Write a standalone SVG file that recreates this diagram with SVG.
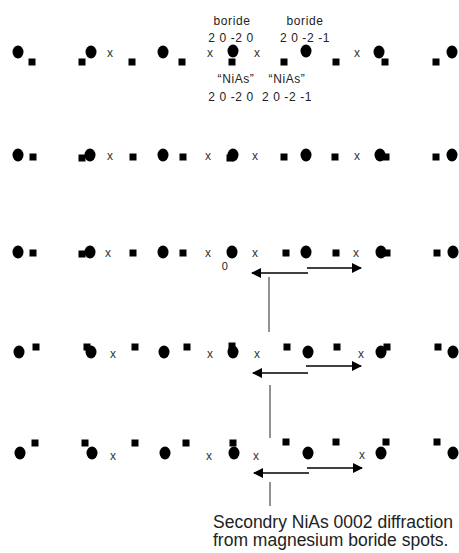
<svg xmlns="http://www.w3.org/2000/svg" width="459" height="553" viewBox="0 0 459 553">
<defs>
<style>
.c{fill:#000}
.s{fill:#000}
.x{font-family:"Liberation Sans",Arial,sans-serif;font-size:12px;fill:#333;text-anchor:middle}
.lb{font-family:"Liberation Sans",Arial,sans-serif;font-size:12px;fill:#222;text-anchor:middle;letter-spacing:0.6px}
.cap{font-family:"Liberation Sans",Arial,sans-serif;font-size:17.5px;fill:#222}
.ar{stroke:#000;stroke-width:1.6;fill:none}
.vl{stroke:#777;stroke-width:1.6;fill:none}
</style>
<marker id="ah" viewBox="0 0 10 10" refX="9" refY="5" markerWidth="10" markerHeight="10" markerUnits="userSpaceOnUse" orient="auto">
<path d="M0,0 L10,5 L0,10 Z" fill="#000"/>
</marker>
<ellipse id="C" cx="0" cy="0" rx="5.5" ry="6.5"/>
<rect id="S" x="-3.5" y="-3.5" width="7" height="7"/>
</defs>
<rect width="459" height="553" fill="#fff"/>

<g id="labels">
<text class="lb" x="232" y="25">boride</text>
<text class="lb" x="231" y="42">2 0 -2 0</text>
<text class="lb" x="305" y="25">boride</text>
<text class="lb" x="305" y="42">2 0 -2 -1</text>
<text class="lb" x="236" y="83">“NiAs”</text>
<text class="lb" x="231" y="101">2 0 -2 0</text>
<text class="lb" x="287" y="83">“NiAs”</text>
<text class="lb" x="287" y="101">2 0 -2 -1</text>
<text class="lb" x="225" y="270" style="font-size:11px">0</text>
</g>

<g id="row1">
<use href="#C" x="18" y="52"/><use href="#S" x="32" y="62"/>
<use href="#S" x="82" y="62"/><use href="#C" x="91" y="52"/>
<text class="x" x="110" y="57">x</text>
<use href="#S" x="132" y="62"/>
<use href="#C" x="163" y="52"/><use href="#S" x="182" y="62"/>
<text class="x" x="210" y="57">x</text>
<use href="#S" x="232" y="62"/><use href="#C" x="233" y="51"/>
<text class="x" x="257" y="57">x</text>
<use href="#S" x="284" y="62"/>
<use href="#C" x="306" y="51"/>
<use href="#S" x="336" y="62"/>
<text class="x" x="357" y="57">x</text>
<use href="#C" x="379" y="52"/><use href="#S" x="385" y="62"/>
<use href="#S" x="436" y="62"/><use href="#C" x="452" y="52"/>
</g>

<g id="row2">
<use href="#C" x="18" y="155"/><use href="#S" x="33" y="157"/>
<use href="#S" x="82" y="158"/><use href="#C" x="90" y="155"/>
<text class="x" x="110" y="160">x</text>
<use href="#S" x="133" y="157"/>
<use href="#C" x="163" y="155"/><use href="#S" x="183" y="157"/>
<text class="x" x="208" y="160">x</text>
<use href="#S" x="230" y="158"/><use href="#C" x="233" y="155"/>
<text class="x" x="255" y="160">x</text>
<use href="#S" x="284" y="157"/>
<use href="#C" x="306" y="155"/>
<use href="#S" x="335" y="157"/>
<text class="x" x="357" y="160">x</text>
<use href="#C" x="380" y="155"/><use href="#S" x="386" y="157"/>
<use href="#S" x="436" y="157"/><use href="#C" x="452" y="155"/>
</g>

<g id="row3">
<use href="#C" x="18" y="252"/><use href="#S" x="33" y="253"/>
<use href="#S" x="82" y="254"/><use href="#C" x="90" y="252"/>
<text class="x" x="108" y="257">x</text>
<use href="#S" x="133" y="253"/>
<use href="#C" x="163" y="252"/><use href="#S" x="183" y="253"/>
<text class="x" x="208" y="257">x</text>
<use href="#C" x="232" y="252"/>
<text class="x" x="255" y="257">x</text>
<use href="#S" x="286" y="253"/>
<use href="#C" x="306" y="252"/>
<use href="#S" x="336" y="253"/>
<text class="x" x="356" y="257">x</text>
<use href="#C" x="381" y="252"/><use href="#S" x="387" y="253"/>
<use href="#S" x="437" y="253"/><use href="#C" x="453" y="252"/>
</g>

<g id="row4">
<use href="#C" x="19" y="352"/><use href="#S" x="36" y="347"/>
<use href="#S" x="87" y="347"/><use href="#C" x="91" y="352"/>
<text class="x" x="113" y="358">x</text>
<use href="#S" x="135" y="347"/>
<use href="#C" x="164" y="352"/><use href="#S" x="187" y="347"/>
<text class="x" x="210" y="358">x</text>
<use href="#S" x="232" y="346"/><use href="#C" x="233" y="352"/>
<text class="x" x="257" y="358">x</text>
<use href="#S" x="287" y="347"/>
<use href="#C" x="308" y="352"/>
<use href="#S" x="337" y="347"/>
<text class="x" x="361" y="358">x</text>
<use href="#C" x="381" y="352"/><use href="#S" x="387" y="347"/>
<use href="#S" x="438" y="347"/><use href="#C" x="453" y="352"/>
</g>

<g id="row5">
<use href="#C" x="20" y="453"/><use href="#S" x="35" y="443"/>
<use href="#S" x="85" y="443"/><use href="#C" x="92" y="453"/>
<text class="x" x="113" y="460">x</text>
<use href="#S" x="135" y="443"/>
<use href="#C" x="165" y="453"/><use href="#S" x="186" y="443"/>
<text class="x" x="209" y="460">x</text>
<use href="#S" x="233" y="443"/><use href="#C" x="234" y="453"/>
<text class="x" x="256" y="460">x</text>
<use href="#S" x="286" y="442"/>
<use href="#C" x="308" y="453"/>
<use href="#S" x="336" y="442"/>
<text class="x" x="362" y="459">x</text>
<use href="#C" x="381" y="453"/><use href="#S" x="386" y="442"/>
<use href="#S" x="437" y="442"/><use href="#C" x="453" y="453"/>
</g>

<g id="connectors">
<line class="ar" x1="308" y1="273" x2="252" y2="273" marker-end="url(#ah)"/>
<line class="ar" x1="307" y1="268" x2="361" y2="268" marker-end="url(#ah)"/>
<line class="vl" x1="269" y1="277" x2="269" y2="332"/>
<line class="ar" x1="308" y1="373" x2="253" y2="373" marker-end="url(#ah)"/>
<line class="ar" x1="306" y1="366" x2="361" y2="366" marker-end="url(#ah)"/>
<line class="vl" x1="270" y1="385" x2="270" y2="438"/>
<line class="ar" x1="309" y1="473" x2="254" y2="473" marker-end="url(#ah)"/>
<line class="ar" x1="307" y1="468" x2="362" y2="468" marker-end="url(#ah)"/>
<line class="vl" x1="270" y1="482" x2="270" y2="506"/>
</g>

<g id="caption">
<text class="cap" x="213" y="528">Secondry NiAs 0002 diffraction</text>
<text class="cap" x="213" y="546">from magnesium boride spots.</text>
</g>
</svg>
